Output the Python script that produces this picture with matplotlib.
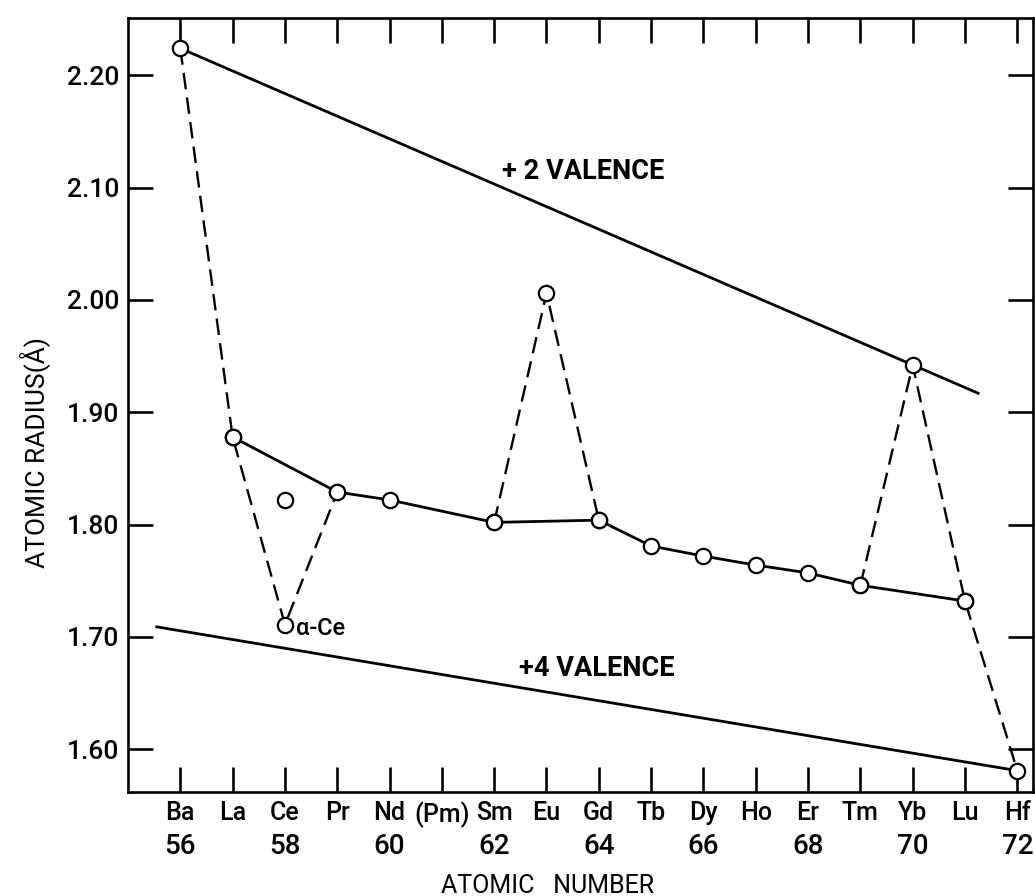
import matplotlib.pyplot as plt

plt.rcParams.update({
    'font.family': 'Roboto',
    'font.weight': 500,
    'axes.linewidth': 1.9,
})

# element symbols and atomic numbers along the x axis
symbols = ['Ba', 'La', 'Ce', 'Pr', 'Nd', '(Pm)', 'Sm', 'Eu', 'Gd',
           'Tb', 'Dy', 'Ho', 'Er', 'Tm', 'Yb', 'Lu', 'Hf']
atomic_numbers = list(range(56, 73))
even_numbers = list(range(56, 73, 2))

# trivalent metals (solid curve)
z_tri = [57, 59, 60, 62, 64, 65, 66, 67, 68, 69, 71]
r_tri = [1.878, 1.829, 1.822, 1.802, 1.804, 1.781, 1.772, 1.764, 1.757, 1.746, 1.732]

# gamma-Ce, drawn on its own
z_ce = [58]
r_ce = [1.822]

# dashed connections through the anomalous metals
z_dash_ba = [56, 57, 58, 59]
r_dash_ba = [2.224, 1.878, 1.711, 1.829]
z_dash_eu = [62, 63, 64]
r_dash_eu = [1.802, 2.006, 1.804]
z_dash_yb = [69, 70, 71, 72]
r_dash_yb = [1.746, 1.942, 1.732, 1.581]

# divalent and tetravalent reference lines
z_val2 = [56, 71.25]
r_val2 = [2.224, 1.917]
z_val4 = [55.55, 72]
r_val4 = [1.709, 1.581]

fig = plt.figure(figsize=(10.35, 8.96), dpi=100)
ax = fig.add_axes([128 / 1035, 1 - 792 / 896, 905 / 1035, 774 / 896])

dash = (0, (7, 3.5))
ax.plot(z_val2, r_val2, color='black', lw=2.0, zorder=2)
ax.plot(z_val4, r_val4, color='black', lw=2.0, zorder=2)
ax.plot(z_tri, r_tri, color='black', lw=2.0, zorder=2)
for zz, rr in [(z_dash_ba, r_dash_ba), (z_dash_eu, r_dash_eu), (z_dash_yb, r_dash_yb)]:
    ax.plot(zz, rr, color='black', lw=1.7, linestyle=dash, zorder=2)

mk = dict(marker='o', ms=11, mfc='white', mec='black', mew=1.6, linestyle='none', zorder=3)
ax.plot(z_tri, r_tri, **mk)
ax.plot(z_ce, r_ce, **mk)
ax.plot(z_dash_ba, r_dash_ba, **mk)
ax.plot(z_dash_eu, r_dash_eu, **mk)
ax.plot(z_dash_yb, r_dash_yb, **mk)

ax.text(63.70, 2.1145, '+ 2 VALENCE', fontsize=19.5, fontweight='bold', ha='center', va='center')
ax.text(63.97, 1.672, '+4 VALENCE', fontsize=19.5, fontweight='bold', ha='center', va='center')
ax.text(58.22, 1.7076, 'α-Ce', fontsize=17, ha='left', va='center')

ax.set_xlim(55.0, 72.3)
ax.set_ylim(1.562, 2.251)

ax.set_xticks(atomic_numbers)
ax.set_xticklabels(symbols, fontsize=18)
ax.tick_params(axis='x', which='both', direction='in', top=True, bottom=True,
               length=18, width=1.9, pad=6.5)

yt = [1.60, 1.70, 1.80, 1.90, 2.00, 2.10, 2.20]
ax.set_yticks(yt)
ax.set_yticklabels([f'{v:.2f}' for v in yt], fontsize=19)
ax.tick_params(axis='y', direction='in', left=True, right=True,
               length=18, width=1.9, pad=6.5)

# second row of labels: even atomic numbers
for n in even_numbers:
    ax.text(n, -0.053, str(n), transform=ax.get_xaxis_transform(),
            fontsize=20, ha='center', va='top')

ax.set_xlabel('ATOMIC   NUMBER', fontsize=18)
ax.xaxis.set_label_coords(0.464, -0.106)
ax.set_ylabel('ATOMIC RADIUS(Å)', fontsize=19)
ax.yaxis.set_label_coords(-0.086, 0.439)

fig.savefig('out.png', dpi=100)
